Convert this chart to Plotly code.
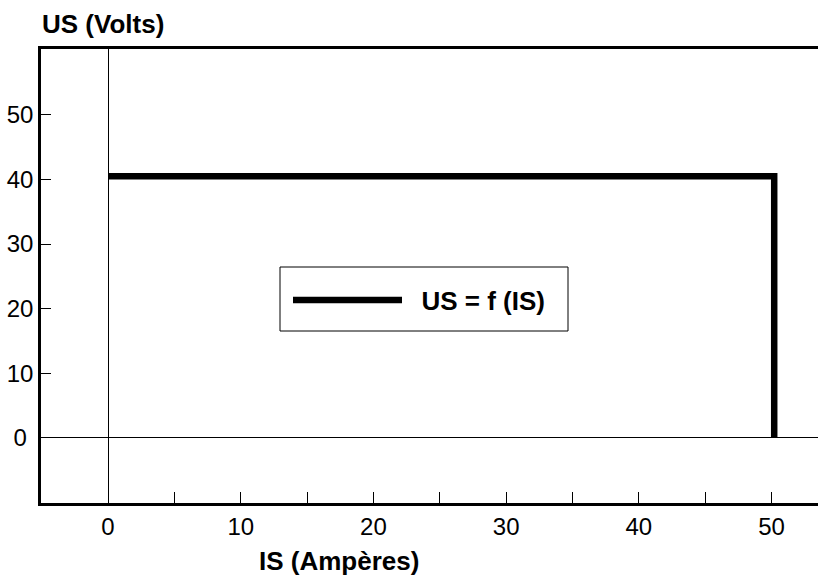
import plotly.graph_objects as go

# Data
is_amperes = [0, 50.2, 50.2]
us_volts = [40.5, 40.5, 0]
series_name = "US = f (IS)"

x_tickvals = [0, 5, 10, 15, 20, 25, 30, 35, 40, 45, 50]
x_ticktext = ["0", "", "10", "", "20", "", "30", "", "40", "", "50"]
y_tickvals = [0, 10, 20, 30, 40, 50]
y_ticktext = ["0\u2008", "10", "20", "30", "40", "50"]

FONT = "Liberation Sans, Arial, sans-serif"

L, R, T, B = 41, 0, 49, 74
W, H = 818, 577
PW, PH = W - L - R, H - T - B


def px_x(px):
    return (px - L) / PW


def px_y(py):
    return (H - B - py) / PH


fig = go.Figure()
fig.add_trace(go.Scatter(
    x=is_amperes, y=us_volts, mode="lines",
    name="\u00a0\u00a0" + series_name + "\u00a0",
    line=dict(color="black", width=6.5), showlegend=True,
))

fig.update_layout(
    width=W, height=H,
    margin=dict(l=L, r=R, t=T, b=B, autoexpand=False),
    paper_bgcolor="white", plot_bgcolor="white",
    font=dict(family=FONT, size=24, color="black"),
    showlegend=True,
    legend=dict(
        x=px_x(288), y=px_y(300), xanchor="left", yanchor="middle",
        borderwidth=0, bgcolor="rgba(0,0,0,0)",
        font=dict(family=FONT, size=26, color="black", weight="bold"),
        itemwidth=109,
    ),
    shapes=[
        dict(type="rect", xref="paper", yref="paper",
             x0=px_x(280), x1=px_x(568), y0=px_y(331), y1=px_y(267),
             line=dict(color="black", width=1), fillcolor="white", layer="above"),
    ],
    xaxis=dict(
        range=[-5.05, 53.5], showgrid=False, automargin=False,
        showline=True, linewidth=2.5, linecolor="black", mirror=True,
        ticks="inside", ticklen=11, tickwidth=1, tickcolor="black",
        tickvals=x_tickvals, ticktext=x_ticktext,
        zeroline=True, zerolinewidth=1, zerolinecolor="black",
        tickfont=dict(size=24),
    ),
    yaxis=dict(
        range=[-10.1, 60.2], showgrid=False, automargin=False,
        showline=True, linewidth=2.5, linecolor="black", mirror=False,
        ticks="inside", ticklen=10, tickwidth=1, tickcolor="black",
        tickvals=y_tickvals, ticktext=y_ticktext,
        zeroline=True, zerolinewidth=1, zerolinecolor="black",
        tickfont=dict(size=24),
    ),
    annotations=[
        dict(text="<b>US (Volts)</b>", xref="paper", yref="paper",
             x=0, y=1, xanchor="left", yanchor="middle", yshift=25, xshift=-1,
             showarrow=False, font=dict(size=26)),
        dict(text="<b>IS (Ampères)</b>", xref="paper", yref="paper",
             x=px_x(338.5), y=0, xanchor="center", yanchor="middle",
             yshift=-58, showarrow=False, font=dict(size=26)),
    ],
)

fig.write_html(
    "out.html",
    config={"displayModeBar": False},
    post_script="document.body.style.margin='0';document.body.style.overflow='hidden';",
)
